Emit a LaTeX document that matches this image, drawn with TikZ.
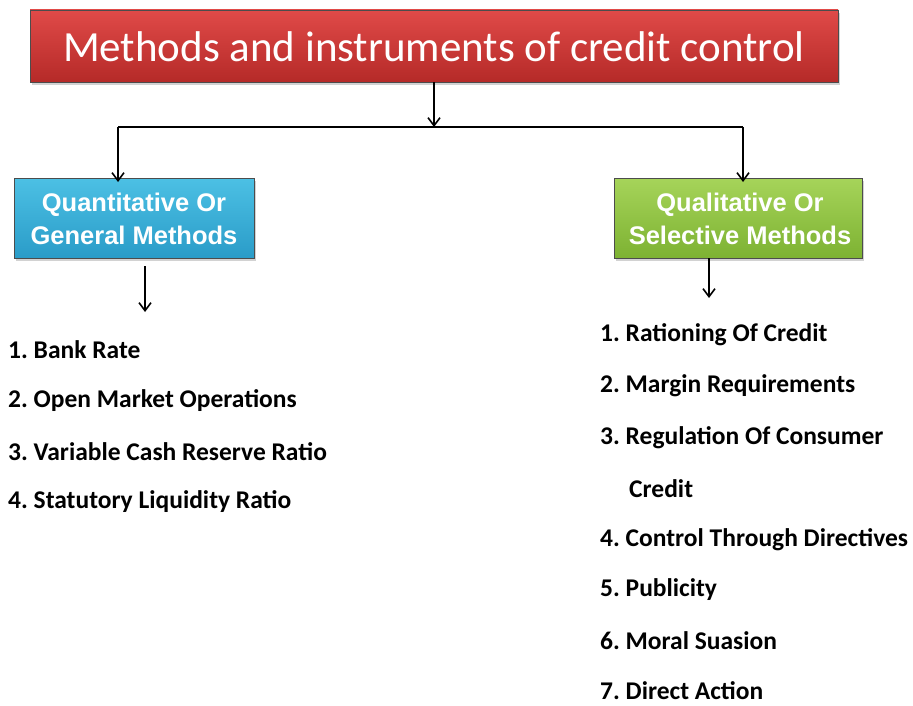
\documentclass[tikz,border=0pt]{standalone}
\usepackage{fontspec}
\setmainfont{Carlito}
\newfontfamily\arialfont{Liberation Sans}
\usetikzlibrary{shadows,arrows.meta}
\frenchspacing
\definecolor{redtop}{HTML}{E04A48}
\definecolor{redbot}{HTML}{B52A28}
\definecolor{bluetop}{HTML}{4CC0E4}
\definecolor{bluebot}{HTML}{2A9CC8}
\definecolor{greentop}{HTML}{A6D45A}
\definecolor{greenbot}{HTML}{7DB232}
\begin{document}
\begin{tikzpicture}[x=1pt,y=-1pt,
  conn/.style={draw=black,line width=1.8pt},
  arr/.style={conn,-{Straight Barb[length=8pt,width=12pt,line width=1.6pt]}},
  box/.style={draw=black!70,line width=0.6pt,drop shadow={shadow xshift=2pt,shadow yshift=-3pt,opacity=0.35}},
  boxtext/.style={text=white,font=\arialfont\bfseries\fontsize{25.5}{33}\selectfont,align=center,inner sep=0pt},
  item/.style={anchor=west,inner sep=0pt,font=\bfseries\fontsize{25.5}{28}\selectfont}]
\useasboundingbox (0,0) rectangle (913,706);
\fill[white] (0,0) rectangle (913,706);
% title
\path[box,top color=redtop,bottom color=redbot] (30,10) rectangle (838,82);
\node[text=white,inner sep=0pt,font=\fontsize{43}{46}\selectfont] (title) at (434,47) {Methods and instruments of credit control};
\coordinate (tb) at (434,82);
\coordinate (hj) at (434,127);
\coordinate (hl) at (118,127);
\coordinate (hr) at (743,127);
\draw[arr] (tb) -- (hj);
\draw[conn] (hl) -- (hr);
% blue
\path[box,top color=bluetop,bottom color=bluebot] (14,178) rectangle (254,258);
\node[boxtext] (quant) at (134,219) {Quantitative Or\\General Methods};
% green
\path[box,top color=greentop,bottom color=greenbot] (614,178) rectangle (862,258);
\node[boxtext] (qual) at (740,219) {Qualitative Or\\Selective Methods};
\coordinate (qt) at (118,178);
\coordinate (lt) at (743,178);
\draw[arr] (hl) -- ([yshift=-4pt]qt);
\draw[arr] (hr) -- ([yshift=-4pt]lt);
\coordinate (qb) at (145,266);
\coordinate (qe) at (145,312);
\coordinate (lb) at (709,258);
\coordinate (le) at (709,298);
\draw[arr] (qb) -- (qe);
\draw[arr] (lb) -- (le);
% left list
\node[item] (l1) at (8,350) {1. Bank Rate};
\node[item] (l2) at (8,401) {2. Open Market Operations};
\node[item] (l3) at (8,452) {3. Variable Cash Reserve Ratio};
\node[item] (l4) at (8,502) {4. Statutory Liquidity Ratio};
% right list
\node[item] (r1) at (600,335) {1. Rationing Of Credit};
\node[item] (r2) at (600,386) {2. Margin Requirements};
\node[item] (r3) at (600,438) {3. Regulation Of Consumer};
\node[item] (r3b) at (629,489) {Credit};
\node[item] (r4) at (600,540) {4. Control Through Directives};
\node[item] (r5) at (600,590) {5. Publicity};
\node[item] (r6) at (600,641) {6. Moral Suasion};
\node[item] (r7) at (600,691) {7. Direct Action};
\end{tikzpicture}
\end{document}
